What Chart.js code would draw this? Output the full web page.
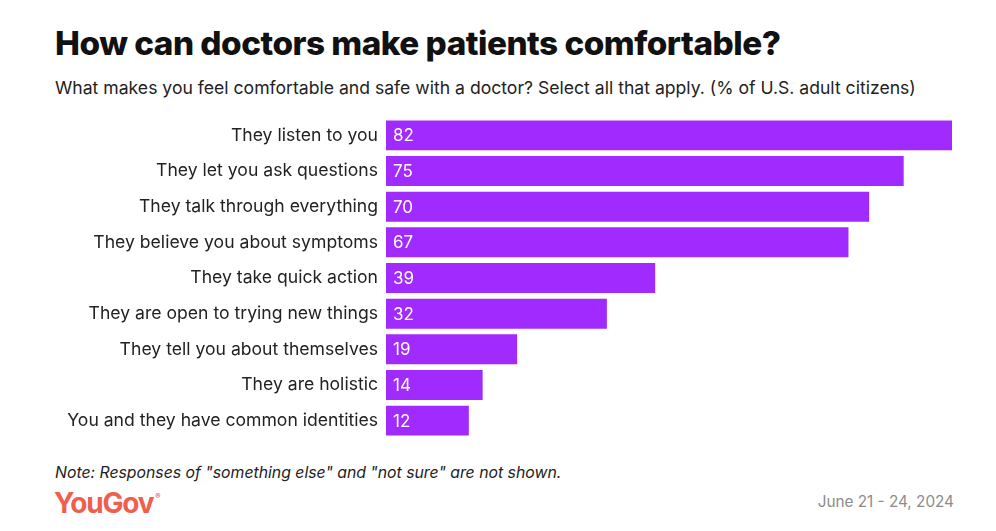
<!DOCTYPE html>
<html>
<head>
<meta charset="utf-8">
<script src="https://cdn.jsdelivr.net/npm/chart.js@4"></script>
<style>
  body { margin: 0; width: 996px; height: 531px; background: #fff; font-family: Inter, "Noto Sans", sans-serif; position: relative; overflow: hidden; }
  .title { position: absolute; left: 55px; top: 23px; font-size: 33.3px; font-weight: 800; color: #111; letter-spacing: -0.5px; }
  .sub { position: absolute; left: 55px; top: 77px; font-size: 17.6px; color: #222; }
  .note { position: absolute; left: 55px; top: 463px; font-size: 15.8px; font-style: italic; color: #222; }
  .logo { position: absolute; left: 54px; top: 486px; font-size: 28px; font-weight: 700; color: #f05e4e; letter-spacing: -1.2px; }
  .logo sup { font-size: 8px; vertical-align: 14px; margin-left: 2px; }
  .date { position: absolute; right: 42px; top: 492px; font-size: 15.3px; color: #8c8c8c; }
  #wrap { position: absolute; left: 40px; top: 99px; width: 912px; height: 358px; }
</style>
</head>
<body>
<div class="title">How can doctors make patients comfortable?</div>
<div class="sub">What makes you feel comfortable and safe with a doctor? Select all that apply. (% of U.S. adult citizens)</div>
<div id="wrap"><canvas id="grafico"></canvas></div>
<div class="note">Note: Responses of "something else" and "not sure" are not shown.</div>
<div class="logo">YouGov<sup>®</sup></div>
<div class="date">June 21 - 24, 2024</div>
<script>
const categorias = [
  'They listen to you',
  'They let you ask questions',
  'They talk through everything',
  'They believe you about symptoms',
  'They take quick action',
  'They are open to trying new things',
  'They tell you about themselves',
  'They are holistic',
  'You and they have common identities'
];
const valores = [82, 75, 70, 67, 39, 32, 19, 14, 12];

// rótulos brancos dentro das barras
const rotulos = {
  id: 'rotulos',
  afterDatasetsDraw(chart) {
    const ctx = chart.ctx;
    const meta = chart.getDatasetMeta(0);
    ctx.save();
    ctx.fillStyle = '#fff';
    ctx.font = '17px Inter, "Noto Sans", sans-serif';
    ctx.textBaseline = 'middle';
    meta.data.forEach((bar, i) => {
      ctx.fillText(valores[i], bar.base + 7, bar.y + 1);
    });
    ctx.restore();
  }
};

new Chart(document.getElementById('grafico'), {
  type: 'bar',
  data: {
    labels: categorias,
    datasets: [{
      data: valores,
      backgroundColor: '#a12bff',
      categoryPercentage: 0.84,
      barPercentage: 1
    }]
  },
  options: {
    indexAxis: 'y',
    responsive: true,
    maintainAspectRatio: false,
    animation: false,
    layout: { padding: 0 },
    plugins: { legend: { display: false }, tooltip: { enabled: false } },
    scales: {
      x: { display: false, min: 0, max: 82 },
      y: {
        grid: { display: false, drawTicks: false },
        border: { display: false },
        afterFit: axis => { axis.width = 346; },
        ticks: {
          color: '#222',
          padding: 8,
          font: { family: 'Inter, "Noto Sans", sans-serif', size: 17.6 }
        }
      }
    }
  },
  plugins: [rotulos]
});
</script>
</body>
</html>
